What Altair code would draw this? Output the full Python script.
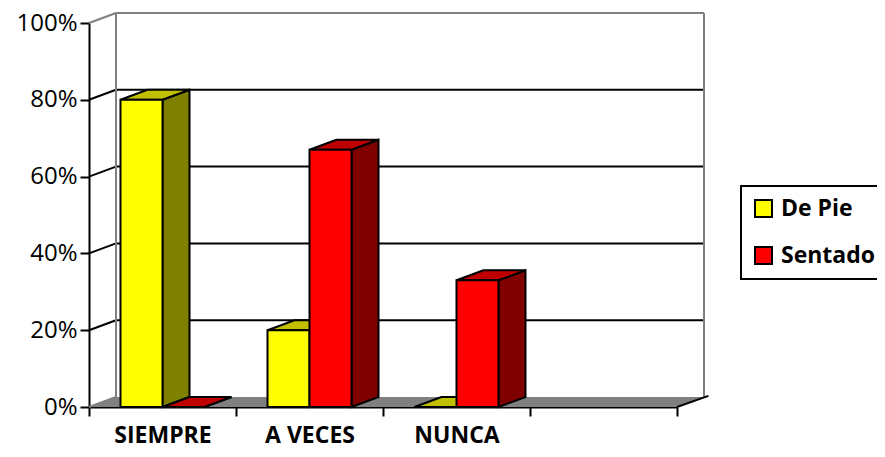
import altair as alt
import pandas as pd

# ---- data ----
categories = ["SIEMPRE", "A VECES", "NUNCA"]
series = ["De Pie", "Sentado"]
de_pie = [0.80, 0.20, 0.00]
sentado = [0.00, 0.67, 0.33]
y_ticks = [0, 0.2, 0.4, 0.6, 0.8, 1.0]
n_slots = 4  # the category axis has one extra empty slot

front_colors = ["#FFFF00", "#FF0000"]
top_colors = ["#C0C000", "#C00000"]
side_colors = ["#808000", "#800000"]

# ---- geometry of the pseudo-3D frame (in scale units) ----
W, H = 588, 384
SLOT_PX = W / n_slots
DX = 27 / SLOT_PX        # depth, in category units
DY = 10 / H              # depth, in value units
BAR = 42 / SLOT_PX       # bar width, category units
GAP = (1 - 2 * BAR) / 2  # gap before the group
FONT = "Open Sans"

values = [de_pie, sentado]

fronts, sides, tops = [], [], []
for i, cat in enumerate(categories):
    for s, name in enumerate(series):
        v = values[s][i]
        x0 = i + GAP + s * BAR
        x1 = x0 + BAR
        bid = f"{cat}-{name}"
        fronts.append(dict(x=x0, x2=x1, y=0.0, y2=v, serie=name))
        sides.append(dict(bid=bid, x=x1, y=0.0, y2=v, c=side_colors[s]))
        sides.append(dict(bid=bid, x=x1 + DX, y=DY, y2=v + DY, c=side_colors[s]))
        tops.append(dict(bid=bid, y=v, x=x0, x2=x1, c=top_colors[s]))
        tops.append(dict(bid=bid, y=v + DY, x=x0 + DX, x2=x1 + DX, c=top_colors[s]))

fronts = pd.DataFrame(fronts)
sides = pd.DataFrame(sides)
tops = pd.DataFrame(tops)

floor = pd.DataFrame([
    dict(y=0.0, x=0.0, x2=float(n_slots)),
    dict(y=DY, x=DX, x2=n_slots + DX),
])

GRAY = "#808080"
rules = []
for v in y_ticks:
    col = GRAY if v in (0, 1.0) else "black"
    rules.append(dict(x=0.0, x2=DX, y=v, y2=v + DY, c=col))          # left wall
    if v > 0:
        rules.append(dict(x=DX, x2=n_slots + DX, y=v + DY, y2=v + DY, c=col))  # back wall
rules.append(dict(x=DX, x2=DX, y=DY, y2=1 + DY, c=GRAY))
rules.append(dict(x=n_slots + DX, x2=n_slots + DX, y=DY, y2=1 + DY, c=GRAY))
rules.append(dict(x=float(n_slots), x2=n_slots + DX + 0.03, y=0.0, y2=DY + 0.003, c="black"))
rules = pd.DataFrame(rules)

# ---- scales and axes ----
xs = alt.Scale(domain=[0, n_slots], nice=False, zero=False)
ys = alt.Scale(domain=[0, 1], nice=False, zero=False)

label_arr = "[" + ",".join("'" + c + "'" for c in categories + [""] * (n_slots + 1 - len(categories))) + "]"
xaxis = alt.Axis(
    values=list(range(n_slots + 1)), labelExpr=label_arr + "[datum.value]",
    labelOffset=SLOT_PX / 2, labelFlush=False, labelOverlap=False,
    labelFont=FONT, labelFontSize=23, labelFontWeight="bold", labelColor="black",
    labelBaseline="alphabetic", labelPadding=26,
    tickSize=9, tickWidth=2, tickColor="black",
    domainColor="black", domainWidth=2, grid=False, title=None,
)
yaxis = alt.Axis(
    values=y_ticks, format=".0%", labelFont=FONT, labelFontSize=24, labelColor="black",
    labelPadding=3, tickSize=9, tickWidth=2, tickColor="black",
    domainColor="black", domainWidth=2, grid=False, title=None,
)

X = alt.X("x:Q", scale=xs, axis=xaxis)
Y = alt.Y("y:Q", scale=ys, axis=yaxis)

floor_layer = alt.Chart(floor).mark_area(orient="horizontal", color=GRAY).encode(
    x=X, x2="x2:Q", y=Y)

rule_layer = alt.Chart(rules).mark_rule(strokeWidth=2).encode(
    x=X, x2="x2:Q", y=Y, y2="y2:Q", color=alt.Color("c:N", scale=None))

side_layer = alt.Chart(sides).mark_area(
    orient="vertical", stroke="black", strokeWidth=2, strokeJoin="miter").encode(
    x=X, y=Y, y2="y2:Q", detail="bid:N", fill=alt.Fill("c:N", scale=None))

top_layer = alt.Chart(tops).mark_area(
    orient="horizontal", stroke="black", strokeWidth=2, strokeJoin="miter").encode(
    y=Y, x=X, x2="x2:Q", detail="bid:N", fill=alt.Fill("c:N", scale=None))

front_layer = alt.Chart(fronts).mark_rect(stroke="black", strokeWidth=2).encode(
    x=X, x2="x2:Q", y=Y, y2="y2:Q",
    fill=alt.Fill("serie:N", scale=alt.Scale(domain=series, range=front_colors),
                  legend=alt.Legend(
                      orient="none", legendX=652, legendY=163, title=None,
                      symbolType="square", symbolSize=289, symbolStrokeColor="black",
                      symbolStrokeWidth=2, symbolOpacity=1,
                      labelFont=FONT, labelFontSize=23, labelFontWeight="bold",
                      labelColor="black", labelOffset=6,
                      padding=11, rowPadding=22,
                      strokeColor="black", fillColor="white")),
)

chart = alt.layer(floor_layer, rule_layer, side_layer, top_layer, front_layer).resolve_scale(
    fill="independent", color="independent"
).properties(
    width=W, height=H,
    autosize=alt.AutoSizeParams(type="none"),
    padding={"left": 81, "top": 15, "right": 200, "bottom": 42},
    background="white",
).configure_view(strokeWidth=0).configure_legend(strokeWidth=2)

chart.save("out.html", embed_options={"renderer": "svg", "actions": False})
